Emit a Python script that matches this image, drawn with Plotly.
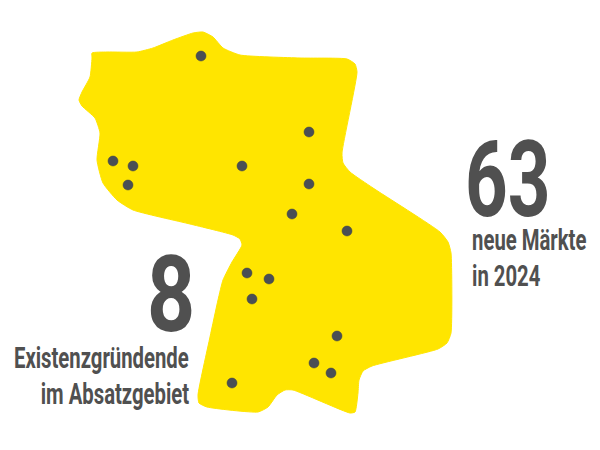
import plotly.graph_objects as go

region_x = [92,107,137,153,173,193,203,213,223,240,300,347,355,357,342,343,350,373,440,448,451,451,447,438,372,363,359,358,355,350,293,285,277,268,258,207,199,198,210,218,223,232,242,240,233,190,133,117,103,97,100,95,82,79,82,90,92,92]
region_y = [53,52,52,48,40,33,32,37,48,55,58,59,64,72,153,163,172,188,232,242,253,333,343,349,366,371,380,393,412,413,390,390,395,407,412,407,403,395,337,300,280,262,245,239,235,224,210,200,183,160,133,118,106,100,92,77,58,53]
market_x = [201,113,133,128,242,309,309,292,347,247,269,252,337,314,331,232]
market_y = [56,161,166,185,166,132,184,214,231,273,279,299,336,363,373,383]

YELLOW = "#FFE500"
DOT = "#4A4F55"
TXT = "#505050"
FONT = "Roboto"

fig = go.Figure()
fig.add_trace(go.Scatter(x=region_x, y=region_y, mode="lines", fill="toself", fillcolor=YELLOW,
                         line=dict(color=YELLOW, width=1, shape="spline", smoothing=0.5), hoverinfo="skip"))
fig.add_trace(go.Scatter(x=market_x, y=market_y, mode="markers",
                         marker=dict(color=DOT, size=10, line=dict(color="#3c4045", width=0.5))))

def label(x, y, text, size, anchor):
    fig.add_annotation(x=x, y=y, text=f"<b>{text}</b>", showarrow=False, xanchor=anchor, yanchor="middle",
                       font=dict(family=FONT, size=size, color=TXT))

label(463, 180, "63", 105, "left")
label(470, 240, "neue Märkte", 29, "left")
label(470, 276, "in 2024", 29, "left")
label(197, 295, "8", 105, "right")
label(191, 358, "Existenzgründende", 29, "right")
label(191, 394, "im Absatzgebiet", 29, "right")

fig.update_layout(width=592, height=442, margin=dict(l=0, r=0, t=0, b=0), showlegend=False,
                  paper_bgcolor="white", plot_bgcolor="white",
                  xaxis=dict(range=[8, 600], visible=False, fixedrange=True),
                  yaxis=dict(range=[450, 8], visible=False, fixedrange=True))

post = """
var anchors = ['left','left','left','right','right','right'];
var scales = [0.71,0.7,0.7,0.8,0.7,0.7];
var nodes = document.querySelectorAll('.annotation-text');
nodes.forEach(function(t, i){
  t.style.transformBox = 'fill-box';
  t.style.transformOrigin = anchors[i] + ' center';
  t.style.transform = 'scaleX(' + scales[i] + ')';
});
"""
fig.write_html("out.html", config={"displayModeBar": False}, post_script=post)
